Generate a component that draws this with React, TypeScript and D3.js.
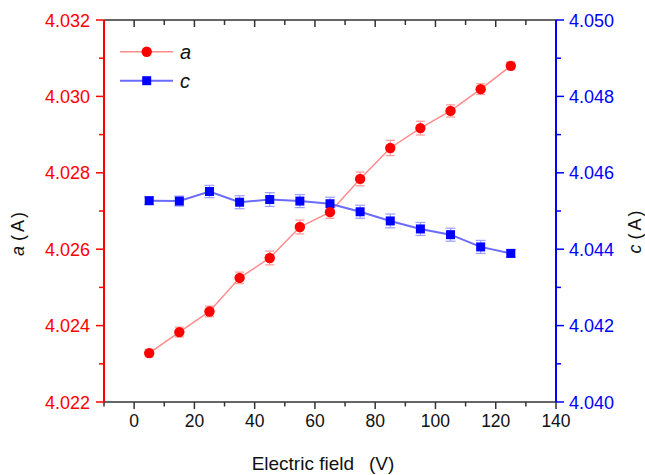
import React from "react";
import { scaleLinear, range, line } from "d3";

// electric field (V)
const fields = [5, 15, 25, 35, 45, 55, 65, 75, 85, 95, 105, 115, 125];
// lattice parameter a (A), left axis
const aValues = [4.02328, 4.02383, 4.02437, 4.02525, 4.02577, 4.02658, 4.02697, 4.02784, 4.02865, 4.02917, 4.02962, 4.03019, 4.0308];
const aErrors = [0.0001, 0.00013, 0.00014, 0.00015, 0.00018, 0.00018, 0.00016, 0.00018, 0.0002, 0.00018, 0.00016, 0.00014, 0.0001];
// lattice parameter c (A), right axis
const cValues = [4.04527, 4.04526, 4.04551, 4.04523, 4.0453, 4.04526, 4.04519, 4.04498, 4.04474, 4.04453, 4.04438, 4.04406, 4.04389];
const cErrors = [0.0001, 0.00013, 0.00016, 0.00017, 0.00018, 0.00017, 0.00017, 0.00017, 0.00018, 0.00017, 0.00017, 0.00017, 0.0001];

const aTicks = [4.022, 4.024, 4.026, 4.028, 4.03, 4.032];
const cTicks = [4.04, 4.042, 4.044, 4.046, 4.048, 4.05];
const xTicks = [0, 20, 40, 60, 80, 100, 120, 140];

const width = 645;
const height = 475;
const margin = { top: 20, right: 89, bottom: 73, left: 104 };

const RED = "#ff0000";
const BLUE = "#0000ff";
const RED_LINE = "#ff8c8c";
const BLUE_LINE = "#6b6bff";
const FONT = "'Liberation Sans', Arial, sans-serif";

export default function App() {
  const x = scaleLinear().domain([-10, 140]).range([margin.left, width - margin.right]);
  const yA = scaleLinear().domain([4.022, 4.032]).range([height - margin.bottom, margin.top]);
  const yC = scaleLinear().domain([4.04, 4.05]).range([height - margin.bottom, margin.top]);

  const x0 = margin.left;
  const x1 = width - margin.right;
  const yb = height - margin.bottom;
  const yt = margin.top;

  const aLine = line<number>()
    .x((_, i) => x(fields[i]))
    .y((d) => yA(d));
  const cLine = line<number>()
    .x((_, i) => x(fields[i]))
    .y((d) => yC(d));

  const xMinor = range(-10, 140, 20);
  const aMinor = range(4.023, 4.032, 0.002);
  const cMinor = range(4.041, 4.05, 0.002);

  return (
    <svg width={width} height={height} style={{ position: "absolute", left: 0, top: 0 }} fontFamily={FONT}>
      <rect width={width} height={height} fill="#fff" />

      {/* error bars */}
      <g stroke="#ff9e9e" strokeWidth={1.3}>
        {fields.map((f, i) => {
          const cx = x(f);
          const t = yA(aValues[i] + aErrors[i]);
          const b = yA(aValues[i] - aErrors[i]);
          return (
            <g key={"ea" + i}>
              <line x1={cx} x2={cx} y1={t} y2={b} />
              <line x1={cx - 4.5} x2={cx + 4.5} y1={t} y2={t} />
              <line x1={cx - 4.5} x2={cx + 4.5} y1={b} y2={b} />
            </g>
          );
        })}
      </g>
      <g stroke="#a3a3ff" strokeWidth={1.3}>
        {fields.map((f, i) => {
          const cx = x(f);
          const t = yC(cValues[i] + cErrors[i]);
          const b = yC(cValues[i] - cErrors[i]);
          return (
            <g key={"ec" + i}>
              <line x1={cx} x2={cx} y1={t} y2={b} />
              <line x1={cx - 5} x2={cx + 5} y1={t} y2={t} />
              <line x1={cx - 5} x2={cx + 5} y1={b} y2={b} />
            </g>
          );
        })}
      </g>

      {/* series lines */}
      <path d={aLine(aValues) || ""} fill="none" stroke={RED_LINE} strokeWidth={1.5} />
      <path d={cLine(cValues) || ""} fill="none" stroke={BLUE_LINE} strokeWidth={2} />

      {/* markers */}
      {fields.map((f, i) => (
        <rect key={"mc" + i} x={x(f) - 4.5} y={yC(cValues[i]) - 4.5} width={9} height={9} fill={BLUE} />
      ))}
      {fields.map((f, i) => (
        <circle key={"ma" + i} cx={x(f)} cy={yA(aValues[i])} r={5.2} fill={RED} />
      ))}

      {/* top axis */}
      <line x1={x0} x2={x1} y1={yt} y2={yt} stroke="#333" strokeWidth={1.5} />
      {xTicks.map((t) => (
        <line key={"tt" + t} x1={x(t)} x2={x(t)} y1={yt} y2={yt + 7} stroke="#333" strokeWidth={1.5} />
      ))}
      {xMinor.map((t) => (
        <line key={"tm" + t} x1={x(t)} x2={x(t)} y1={yt} y2={yt + 5} stroke="#333" strokeWidth={1.5} />
      ))}

      {/* bottom axis */}
      <line x1={x0} x2={x1} y1={yb} y2={yb} stroke="#333" strokeWidth={1.5} />
      {xTicks.map((t) => (
        <g key={"bt" + t}>
          <line x1={x(t)} x2={x(t)} y1={yb} y2={yb + 7} stroke="#333" strokeWidth={1.5} />
          <text x={x(t)} y={427} textAnchor="middle" fontSize={17.5} fill="#111">
            {t}
          </text>
        </g>
      ))}
      {xMinor.map((t) => (
        <line key={"bm" + t} x1={x(t)} x2={x(t)} y1={yb} y2={yb + 4.5} stroke="#333" strokeWidth={1.5} />
      ))}
      <text x={323} y={470} textAnchor="middle" fontSize={19} fill="#111">
        Electric field<tspan dx={15}>(V)</tspan>
      </text>

      {/* left axis */}
      <line x1={x0} x2={x0} y1={yt} y2={yb} stroke={RED} strokeWidth={2} />
      {aTicks.map((t) => (
        <g key={"la" + t}>
          <line x1={x0 - 8} x2={x0} y1={yA(t)} y2={yA(t)} stroke={RED} strokeWidth={1.5} />
          <text x={90} y={yA(t) + 6.5} textAnchor="end" fontSize={18} fill={RED}>
            {t.toFixed(3)}
          </text>
        </g>
      ))}
      {aMinor.map((t) => (
        <line key={"lm" + t} x1={x0 - 5} x2={x0} y1={yA(t)} y2={yA(t)} stroke={RED} strokeWidth={1.5} />
      ))}
      <text transform="translate(24,234) rotate(-90)" textAnchor="middle" fontSize={18} fill="#111">
        <tspan fontStyle="italic">a</tspan>
        <tspan dx={5}>(</tspan>
        <tspan dx={3}>A</tspan>
        <tspan dx={2}>)</tspan>
      </text>

      {/* right axis */}
      <line x1={x1} x2={x1} y1={yt} y2={yb} stroke={BLUE} strokeWidth={2} />
      {cTicks.map((t) => (
        <g key={"ra" + t}>
          <line x1={x1} x2={x1 + 8} y1={yC(t)} y2={yC(t)} stroke={BLUE} strokeWidth={1.5} />
          <text x={569} y={yC(t) + 6.5} textAnchor="start" fontSize={18} fill={BLUE}>
            {t.toFixed(3)}
          </text>
        </g>
      ))}
      {cMinor.map((t) => (
        <line key={"rm" + t} x1={x1} x2={x1 + 5} y1={yC(t)} y2={yC(t)} stroke={BLUE} strokeWidth={1.5} />
      ))}
      <text transform="translate(641,232) rotate(-90)" textAnchor="middle" fontSize={18} fill="#111">
        <tspan fontStyle="italic">c</tspan>
        <tspan dx={5}>(</tspan>
        <tspan dx={3}>A</tspan>
        <tspan dx={2}>)</tspan>
      </text>

      {/* legend */}
      <line x1={120} x2={173} y1={51.7} y2={51.7} stroke={RED_LINE} strokeWidth={1.5} />
      <circle cx={146.7} cy={51.7} r={5.2} fill={RED} />
      <text x={180} y={58.5} fontSize={20} fontStyle="italic" fill="#111">
        a
      </text>
      <line x1={120} x2={173} y1={80.7} y2={80.7} stroke={BLUE_LINE} strokeWidth={2} />
      <rect x={142.2} y={76.2} width={9} height={9} fill={BLUE} />
      <text x={180} y={88} fontSize={20} fontStyle="italic" fill="#111">
        c
      </text>
    </svg>
  );
}
